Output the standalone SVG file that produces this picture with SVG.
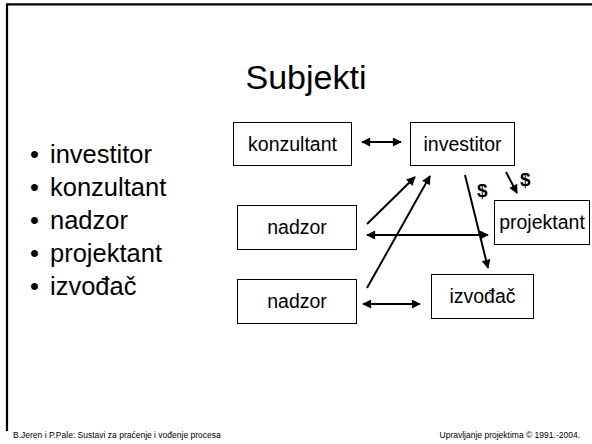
<svg xmlns="http://www.w3.org/2000/svg" width="592" height="444" viewBox="0 0 592 444">
<defs>
<style>
text{font-family:"Liberation Sans",Arial,sans-serif;fill:#000}
.box{fill:#fff;stroke:#000;stroke-width:1}
.bt{font-size:19.5px;text-anchor:middle}
.bul{font-size:25.5px}
.con{stroke:#000;stroke-width:2;fill:none}
.lbl{font-size:19px;font-weight:bold}
.foot{font-size:8.5px}
</style>
<marker id="ah" viewBox="0 0 10 10" refX="9" refY="5" markerWidth="10" markerHeight="9" markerUnits="userSpaceOnUse" orient="auto-start-reverse">
<path d="M0,0 L10,5 L0,10 Z" fill="#000"/>
</marker>
</defs>
<rect width="592" height="444" fill="#fff"/>
<g id="frame">
<line x1="6" y1="4.3" x2="592" y2="4.3" stroke="#000" stroke-width="2.2"/>
<line x1="7" y1="4" x2="7" y2="431" stroke="#000" stroke-width="2.2"/>
</g>
<text id="title" x="306" y="89" font-size="34" text-anchor="middle">Subjekti</text>
<g id="bullets" class="bul">
<text x="30" y="163">•</text><text x="50" y="163" class="bul">investitor</text>
<text x="30" y="196">•</text><text x="50" y="196" class="bul">konzultant</text>
<text x="30" y="229">•</text><text x="50" y="229" class="bul">nadzor</text>
<text x="30" y="262">•</text><text x="50" y="262" class="bul">projektant</text>
<text x="30" y="295">•</text><text x="50" y="295" class="bul">izvođač</text>
</g>
<g id="connectors">
<line class="con" x1="362" y1="142" x2="401" y2="142" marker-start="url(#ah)" marker-end="url(#ah)"/>
<line class="con" x1="367" y1="224" x2="415" y2="177" marker-end="url(#ah)"/>
<line class="con" x1="367" y1="288" x2="430" y2="176" marker-end="url(#ah)"/>
<line class="con" x1="465" y1="175" x2="488" y2="268" marker-end="url(#ah)"/>
<line class="con" x1="506" y1="172" x2="517" y2="193" marker-end="url(#ah)"/>
<line class="con" x1="367" y1="235" x2="488" y2="235" marker-start="url(#ah)" marker-end="url(#ah)"/>
<line class="con" x1="363" y1="304" x2="420" y2="304" marker-start="url(#ah)" marker-end="url(#ah)"/>
<text class="lbl" x="477" y="197">$</text>
<text class="lbl" x="520" y="186">$</text>
</g>
<g id="konzultant">
<rect class="box" x="233.5" y="122.5" width="118" height="43"/>
<text class="bt" x="292.5" y="151">konzultant</text>
</g>
<g id="investitor">
<rect class="box" x="410.5" y="122.5" width="104" height="43"/>
<text class="bt" x="462.5" y="151">investitor</text>
</g>
<g id="nadzor1">
<rect class="box" x="237.5" y="205.5" width="119" height="44"/>
<text class="bt" x="297" y="234">nadzor</text>
</g>
<g id="nadzor2">
<rect class="box" x="237.5" y="279.5" width="119" height="44"/>
<text class="bt" x="297" y="308">nadzor</text>
</g>
<g id="projektant">
<rect class="box" x="494.5" y="200.5" width="95" height="44"/>
<text class="bt" x="542" y="229">projektant</text>
</g>
<g id="izvodac">
<rect class="box" x="431.5" y="274.5" width="102" height="44"/>
<text class="bt" x="482.5" y="303">izvođač</text>
</g>
<g id="footer">
<text class="foot" x="13" y="438">B.Jeren i P.Pale: Sustavi za praćenje i vođenje procesa</text>
<text class="foot" x="580" y="438" text-anchor="end">Upravljanje projektima © 1991.-2004.</text>
</g>
</svg>
